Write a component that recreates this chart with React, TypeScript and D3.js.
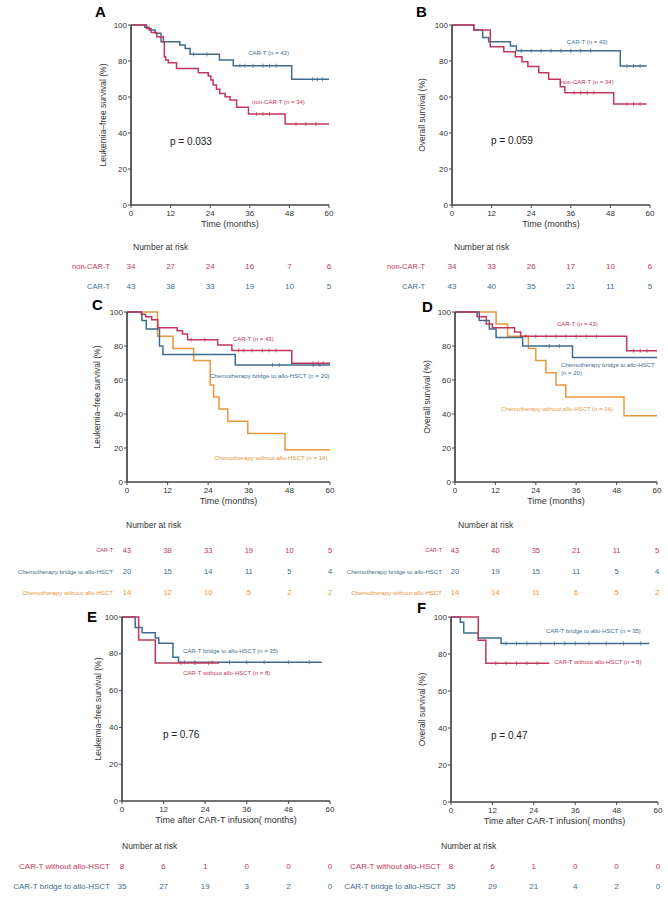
import React from "react";
import * as d3 from "d3";

const RED = "#c2375c";
const BLUE = "#3f6d90";
const ORANGE = "#e9963c";
const AXIS = "#444";
const FONT = "'Liberation Sans', Arial, Helvetica, sans-serif";

const timeTicks = [0, 12, 24, 36, 48, 60];
const survTicks = [0, 20, 40, 60, 80, 100];

// Kaplan-Meier steps: [time (months), survival (%)]
const lfsCarT: number[][] = [[0, 100], [4.2, 98.7], [5.5, 97.2], [7.3, 95.4], [9.1, 90.7], [14.8, 88.9], [16.4, 87], [17.9, 83.7], [26.8, 80.6], [31, 77.4], [48.7, 69.8]];
const lfsNonCarT: number[][] = [[0, 100], [4.7, 98.1], [6.1, 95.9], [7.8, 93.5], [9.8, 90.7], [10.1, 82.4], [10.5, 80.6], [11.3, 79], [13.8, 75.9], [20.4, 73.5], [23.4, 71.7], [24.2, 69.4], [24.9, 66.7], [25.9, 64.3], [26.9, 62], [28.5, 60.2], [30, 58.3], [32, 54.3], [35.6, 50.6], [46.7, 45]];
const osCarT: number[][] = [[0, 100], [6.6, 97.2], [9.3, 93], [11.1, 90.7], [17.7, 88.3], [19.5, 85.7], [51, 77.2]];
const osNonCarT: number[][] = [[0, 100], [6.6, 97.2], [11.6, 87.9], [15.7, 85.2], [19.2, 82.4], [21.2, 79.6], [23, 76.9], [26.3, 73.5], [29.3, 69.8], [32.8, 65.7], [34.2, 62.4], [49, 56.1]];
const lfsChemoBridge: number[][] = [[0, 100], [4.4, 95], [5.7, 90], [9.6, 80], [10.6, 75], [32, 68.8]];
const lfsChemoNoHsct: number[][] = [[0, 100], [9, 85.7], [13.6, 78.6], [19.7, 71.4], [24.6, 57.1], [25.6, 50], [27.2, 42.9], [29.8, 35.7], [35.7, 28.6], [46.7, 19]];
const osChemoBridge: number[][] = [[0, 100], [7.2, 95], [10.2, 90], [12.2, 85], [20.1, 80], [34.9, 73.3]];
const osChemoNoHsct: number[][] = [[0, 100], [12.2, 92.9], [15.6, 85.7], [21.8, 78.6], [24, 71.4], [27, 64.3], [30, 57.1], [32.9, 50], [50.2, 38.9]];
const lfsCarTBridge: number[][] = [[0, 100], [3.8, 94.3], [5.8, 91.4], [9.6, 88.6], [10.6, 85.7], [14.7, 78.1], [16.3, 75.4]];
const lfsCarTNoHsct: number[][] = [[0, 100], [4.8, 87.5], [9.6, 75]];
const osCarTBridge: number[][] = [[0, 100], [2.7, 97.1], [3.7, 91.4], [7.9, 88.6], [14.5, 85.7]];
const osCarTNoHsct: number[][] = [[0, 100], [7.9, 87.5], [10.1, 75]];

// censoring times (months)
const cenLfsCarT = [19, 23, 33, 34.5, 37, 40, 42, 44, 55, 56.5, 58];
const cenLfsNonCarT = [38, 40, 42, 50, 53, 56];
const cenOsCarT = [21, 24, 27, 30, 33, 36, 39, 42, 53, 55, 57];
const cenOsNonCarT = [37, 39, 41, 43, 53, 55, 57];
const cenLfsChemoBridge = [43, 45, 55, 57];
const cenOsChemoBridge = [28, 31];
const cenLfsCarTBridge = [18, 21, 26, 31, 36, 41, 48, 54];
const cenLfsCarTNoHsct = [17, 21, 25];
const cenOsCarTBridge = [16, 19, 22, 26, 30, 33, 36, 40, 45, 50, 55];
const cenOsCarTNoHsct = [13, 16, 19, 22, 25];

// numbers at risk
const riskA_non = [34, 27, 24, 16, 7, 6];
const riskA_car = [43, 38, 33, 19, 10, 5];
const riskB_non = [34, 33, 26, 17, 10, 6];
const riskB_car = [43, 40, 35, 21, 11, 5];
const riskC_car = [43, 38, 33, 19, 10, 5];
const riskC_bridge = [20, 15, 14, 11, 5, 4];
const riskC_none = [14, 12, 10, 5, 2, 2];
const riskD_car = [43, 40, 35, 21, 11, 5];
const riskD_bridge = [20, 19, 15, 11, 5, 4];
const riskD_none = [14, 14, 11, 6, 5, 2];
const riskE_none = [8, 6, 1, 0, 0, 0];
const riskE_bridge = [35, 27, 19, 3, 2, 0];
const riskF_none = [8, 6, 1, 0, 0, 0];
const riskF_bridge = [35, 29, 21, 4, 2, 0];

type Curve = { data: number[][]; end: number; censor: number[]; color: string };
type Label = { text: string; t: number; s: number; color: string; size?: number };
type Row = { label: string; values: number[]; color: string; y: number; labelSize: number };
type PanelCfg = {
  id: string; x0: number; x1: number; yTop: number; yBot: number;
  letterX: number; letterY: number; yTitle: string; yTitleX: number; xTitle: string;
  curves: Curve[]; labels: Label[]; p?: { text: string; t: number; s: number };
  headerX: number; headerY: number; labelRight: number; numSize: number; rows: Row[];
};

const panels: PanelCfg[] = [
  {
    id: "A", x0: 131, x1: 329, yTop: 25, yBot: 205, letterX: 95, letterY: 17,
    yTitle: "Leukemia–free survival (%)", yTitleX: 103, xTitle: "Time (months)",
    curves: [
      { data: lfsCarT, end: 60, censor: cenLfsCarT, color: BLUE },
      { data: lfsNonCarT, end: 60, censor: cenLfsNonCarT, color: RED },
    ],
    labels: [
      { text: "CAR-T (n = 43)", t: 35.5, s: 84.4, color: BLUE },
      { text: "non-CAR-T (n = 34)", t: 36.7, s: 57.2, color: RED },
    ],
    p: { text: "p = 0.033", t: 11.8, s: 35.5 },
    headerX: 133, headerY: 247, labelRight: 110, numSize: 8,
    rows: [
      { label: "non-CAR-T", values: riskA_non, color: RED, y: 266, labelSize: 7.5 },
      { label: "CAR-T", values: riskA_car, color: BLUE, y: 286, labelSize: 7.5 },
    ],
  },
  {
    id: "B", x0: 452, x1: 650, yTop: 25, yBot: 205, letterX: 416, letterY: 17,
    yTitle: "Overall survival (%)", yTitleX: 422, xTitle: "Time (months)",
    curves: [
      { data: osCarT, end: 59, censor: cenOsCarT, color: BLUE },
      { data: osNonCarT, end: 59, censor: cenOsNonCarT, color: RED },
    ],
    labels: [
      { text: "CAR-T (n = 43)", t: 34.8, s: 90.5, color: BLUE },
      { text: "non-CAR-T (n = 34)", t: 33, s: 68.3, color: RED },
    ],
    p: { text: "p = 0.059", t: 11.8, s: 36.1 },
    headerX: 454, headerY: 247, labelRight: 425, numSize: 8,
    rows: [
      { label: "non-CAR-T", values: riskB_non, color: RED, y: 266, labelSize: 7.5 },
      { label: "CAR-T", values: riskB_car, color: BLUE, y: 286, labelSize: 7.5 },
    ],
  },
  {
    id: "C", x0: 127, x1: 330, yTop: 312, yBot: 482, letterX: 92, letterY: 310,
    yTitle: "Leukemia–free survival (%)", yTitleX: 97, xTitle: "Time (months)",
    curves: [
      { data: lfsChemoNoHsct, end: 60, censor: [], color: ORANGE },
      { data: lfsChemoBridge, end: 60, censor: cenLfsChemoBridge, color: BLUE },
      { data: lfsCarT, end: 60, censor: cenLfsCarT, color: RED },
    ],
    labels: [
      { text: "CAR-T (n = 43)", t: 31.3, s: 84.1, color: RED },
      { text: "Chemotherapy bridge to allo-HSCT (n = 20)", t: 24.5, s: 62.9, color: BLUE, size: 6.2 },
      { text: "Chemotherapy without allo-HSCT (n = 14)", t: 25.7, s: 14.7, color: ORANGE, size: 6.1 },
    ],
    headerX: 126, headerY: 525, labelRight: 113, numSize: 7.5,
    rows: [
      { label: "CAR-T", values: riskC_car, color: RED, y: 550, labelSize: 5.5 },
      { label: "Chemotherapy bridge to allo-HSCT", values: riskC_bridge, color: BLUE, y: 571, labelSize: 6.1 },
      { label: "Chemotherapy without allo-HSCT", values: riskC_none, color: ORANGE, y: 592, labelSize: 6.1 },
    ],
  },
  {
    id: "D", x0: 455, x1: 657, yTop: 312, yBot: 482, letterX: 422, letterY: 312,
    yTitle: "Overall survival (%)", yTitleX: 427, xTitle: "Time (months)",
    curves: [
      { data: osChemoNoHsct, end: 60, censor: [], color: ORANGE },
      { data: osChemoBridge, end: 60, censor: cenOsChemoBridge, color: BLUE },
      { data: osCarT, end: 60, censor: cenOsCarT, color: RED },
    ],
    labels: [
      { text: "CAR-T (n = 43)", t: 30.3, s: 92.9, color: RED },
      { text: "Chemotherapy bridge to allo-HSCT", t: 31.5, s: 68.8, color: BLUE },
      { text: "(n = 20)", t: 31.5, s: 64.1, color: BLUE },
      { text: "Chemotherapy without allo-HSCT (n = 14)", t: 13.7, s: 42.9, color: ORANGE },
    ],
    headerX: 458, headerY: 525, labelRight: 442, numSize: 7.5,
    rows: [
      { label: "CAR-T", values: riskD_car, color: RED, y: 550, labelSize: 5.5 },
      { label: "Chemotherapy bridge to allo-HSCT", values: riskD_bridge, color: BLUE, y: 571, labelSize: 6.1 },
      { label: "Chemotherapy without allo-HSCT", values: riskD_none, color: ORANGE, y: 592, labelSize: 6.1 },
    ],
  },
  {
    id: "E", x0: 122, x1: 330, yTop: 617, yBot: 801, letterX: 87, letterY: 622,
    yTitle: "Leukemia–free survival (%)", yTitleX: 98, xTitle: "Time after CAR-T infusion( months)",
    curves: [
      { data: lfsCarTBridge, end: 57.6, censor: cenLfsCarTBridge, color: BLUE },
      { data: lfsCarTNoHsct, end: 28, censor: cenLfsCarTNoHsct, color: RED },
    ],
    labels: [
      { text: "CAR-T  bridge to allo-HSCT (n = 35)", t: 17.6, s: 81.5, color: BLUE },
      { text: "CAR-T without allo-HSCT (n = 8)", t: 17.6, s: 69.6, color: RED },
    ],
    p: { text: "p = 0.76", t: 11.8, s: 35.9 },
    headerX: 122, headerY: 846, labelRight: 110, numSize: 8,
    rows: [
      { label: "CAR-T without allo-HSCT", values: riskE_none, color: RED, y: 866, labelSize: 8 },
      { label: "CAR-T  bridge to allo-HSCT", values: riskE_bridge, color: BLUE, y: 886, labelSize: 8 },
    ],
  },
  {
    id: "F", x0: 451, x1: 658, yTop: 617, yBot: 802, letterX: 417, letterY: 613,
    yTitle: "Overall survival (%)", yTitleX: 422, xTitle: "Time after CAR-T infusion( months)",
    curves: [
      { data: osCarTBridge, end: 57.5, censor: cenOsCarTBridge, color: BLUE },
      { data: osCarTNoHsct, end: 28.5, censor: cenOsCarTNoHsct, color: RED },
    ],
    labels: [
      { text: "CAR-T  bridge to allo-HSCT (n = 35)", t: 27.5, s: 92.4, color: BLUE },
      { text: "CAR-T without allo-HSCT (n = 8)", t: 29.9, s: 75.7, color: RED },
    ],
    p: { text: "p = 0.47", t: 11.6, s: 36.2 },
    headerX: 441, headerY: 846, labelRight: 441, numSize: 8,
    rows: [
      { label: "CAR-T without allo-HSCT", values: riskF_none, color: RED, y: 866, labelSize: 8 },
      { label: "CAR-T  bridge to allo-HSCT", values: riskF_bridge, color: BLUE, y: 886, labelSize: 8 },
    ],
  },
];

function survAt(data: number[][], t: number) {
  let s = data[0][1];
  for (const [tt, ss] of data) if (tt <= t) s = ss;
  return s;
}

function Panel({ cfg }: { cfg: PanelCfg }) {
  const x = d3.scaleLinear().domain([0, 60]).range([cfg.x0, cfg.x1]);
  const y = d3.scaleLinear().domain([0, 100]).range([cfg.yBot, cfg.yTop]);
  const line = d3
    .line<number[]>()
    .x((d) => x(d[0]))
    .y((d) => y(d[1]))
    .curve(d3.curveStepAfter);
  const midY = (cfg.yTop + cfg.yBot) / 2;
  const midX = (cfg.x0 + cfg.x1) / 2;
  return (
    <g fontFamily={FONT}>
      <text x={cfg.letterX} y={cfg.letterY} fontSize={15} fontWeight="bold" fill="#000">{cfg.id}</text>
      {cfg.curves.map((c, i) => {
        const pts = [...c.data, [c.end, c.data[c.data.length - 1][1]]];
        return (
          <g key={i}>
            <path d={line(pts) || ""} fill="none" stroke={c.color} strokeWidth={1.5} />
            {c.censor.map((t, j) => (
              <line key={j} x1={x(t)} x2={x(t)} y1={y(survAt(c.data, t)) - 2} y2={y(survAt(c.data, t)) + 2} stroke={c.color} strokeWidth={0.8} />
            ))}
          </g>
        );
      })}
      <line x1={cfg.x0} x2={cfg.x0} y1={cfg.yTop} y2={cfg.yBot} stroke={AXIS} strokeWidth={1.7} />
      <line x1={cfg.x0} x2={cfg.x1} y1={cfg.yBot} y2={cfg.yBot} stroke={AXIS} strokeWidth={1.7} />
      {survTicks.map((v) => (
        <g key={"y" + v}>
          <line x1={cfg.x0 - 3} x2={cfg.x0} y1={y(v)} y2={y(v)} stroke={AXIS} strokeWidth={1} />
          <text x={cfg.x0 - 4} y={y(v)} fontSize={8} textAnchor="end" dominantBaseline="central" fill="#333">{v}</text>
        </g>
      ))}
      {timeTicks.map((v) => (
        <g key={"x" + v}>
          <line x1={x(v)} x2={x(v)} y1={cfg.yBot} y2={cfg.yBot + 3} stroke={AXIS} strokeWidth={1} />
          <text x={x(v)} y={cfg.yBot + 11} fontSize={8} textAnchor="middle" fill="#333">{v}</text>
        </g>
      ))}
      <text transform={`translate(${cfg.yTitleX},${midY}) rotate(-90)`} fontSize={8.5} textAnchor="middle" dominantBaseline="central" fill="#333">{cfg.yTitle}</text>
      <text x={midX} y={cfg.yBot + 22} fontSize={9} textAnchor="middle" fill="#333">{cfg.xTitle}</text>
      {cfg.labels.map((l, i) => (
        <text key={i} x={x(l.t)} y={y(l.s)} fontSize={l.size || 6} fill={l.color} dominantBaseline="central">{l.text}</text>
      ))}
      {cfg.p && (
        <text x={x(cfg.p.t)} y={y(cfg.p.s)} fontSize={10} fill="#222" dominantBaseline="central">{cfg.p.text}</text>
      )}
      <text x={cfg.headerX} y={cfg.headerY} fontSize={8.5} fill="#333" dominantBaseline="central">Number at risk</text>
      {cfg.rows.map((r, i) => (
        <g key={i}>
          <text x={cfg.labelRight} y={r.y} fontSize={r.labelSize} fill={r.color} textAnchor="end" dominantBaseline="central">{r.label}</text>
          {r.values.map((v, j) => (
            <text key={j} x={x(timeTicks[j])} y={r.y} fontSize={cfg.numSize} fill={r.color} textAnchor="middle" dominantBaseline="central">{v}</text>
          ))}
        </g>
      ))}
    </g>
  );
}

export default function App() {
  return (
    <svg width={668} height={906} style={{ position: "absolute", left: 0, top: 0, background: "#fff" }}>
      <rect width={668} height={906} fill="#fff" />
      {panels.map((p) => (
        <Panel key={p.id} cfg={p} />
      ))}
    </svg>
  );
}
